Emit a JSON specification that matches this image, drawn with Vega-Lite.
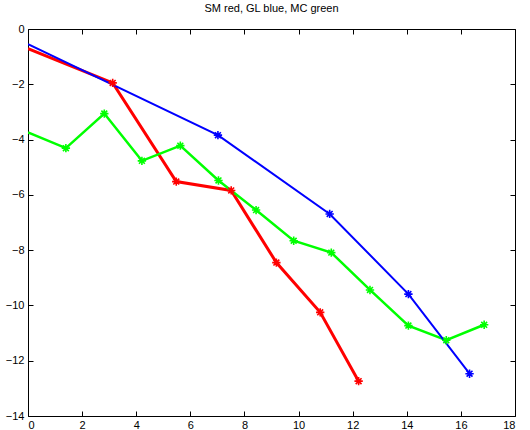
{
  "$schema": "https://vega.github.io/schema/vega-lite/v6.json",
  "width": 487,
  "height": 387,
  "autosize": {"type": "none"},
  "padding": {"left": 28, "top": 29, "right": 15, "bottom": 14},
  "background": "white",
  "title": {"text": "SM red, GL blue, MC green", "fontSize": 11, "fontWeight": "normal", "font": "Liberation Sans", "color": "black", "offset": 9},
  "config": {
    "view": {"stroke": "black", "strokeWidth": 1},
    "axis": {
      "domain": false, "grid": false, "tickColor": "black", "tickSize": -5, "tickWidth": 1,
      "labelFont": "Liberation Sans", "labelFontSize": 11, "labelColor": "black", "title": null
    }
  },
  "data": {"values": [
    {"series": "SM", "x": 0, "y": -0.71},
    {"series": "SM", "x": 3.13, "y": -1.95},
    {"series": "SM", "x": 5.48, "y": -5.52},
    {"series": "SM", "x": 7.51, "y": -5.84},
    {"series": "SM", "x": 9.18, "y": -8.45},
    {"series": "SM", "x": 10.8, "y": -10.25},
    {"series": "SM", "x": 12.22, "y": -12.74},
    {"series": "MC", "x": 0, "y": -3.74},
    {"series": "MC", "x": 1.4, "y": -4.31},
    {"series": "MC", "x": 2.82, "y": -3.06},
    {"series": "MC", "x": 4.21, "y": -4.77},
    {"series": "MC", "x": 5.63, "y": -4.22},
    {"series": "MC", "x": 7.04, "y": -5.48},
    {"series": "MC", "x": 8.43, "y": -6.55},
    {"series": "MC", "x": 9.82, "y": -7.66},
    {"series": "MC", "x": 11.21, "y": -8.09},
    {"series": "MC", "x": 12.64, "y": -9.44},
    {"series": "MC", "x": 14.06, "y": -10.73},
    {"series": "MC", "x": 15.46, "y": -11.26},
    {"series": "MC", "x": 16.86, "y": -10.7},
    {"series": "GL", "x": 0, "y": -0.55},
    {"series": "GL", "x": 7.02, "y": -3.84},
    {"series": "GL", "x": 11.15, "y": -6.69},
    {"series": "GL", "x": 14.06, "y": -9.59},
    {"series": "GL", "x": 16.32, "y": -12.47}
  ]},
  "layer": [
    {
      "mark": {"type": "line", "clip": true},
      "encoding": {
        "x": {"field": "x", "type": "quantitative", "scale": {"domain": [0, 18], "nice": false, "zero": false},
              "axis": {"orient": "bottom", "values": [0, 2, 4, 6, 8, 10, 12, 14, 16, 18], "labelPadding": 8}},
        "y": {"field": "y", "type": "quantitative", "scale": {"domain": [-14, 0], "nice": false, "zero": false},
              "axis": {"orient": "left", "values": [-14, -12, -10, -8, -6, -4, -2, 0], "labelPadding": 9}},
        "color": {"field": "series", "type": "nominal", "scale": {"domain": ["SM", "MC", "GL"], "range": ["#ff0000", "#00ff00", "#0000ff"]}, "legend": null},
        "strokeWidth": {"field": "series", "type": "nominal", "scale": {"domain": ["SM", "MC", "GL"], "range": [3, 2, 2]}, "legend": null},
        "order": {"field": "x", "type": "quantitative"}
      }
    },
    {
      "transform": [{"filter": "datum.x > 0"}],
      "mark": {"type": "point", "shape": "M-1,0L1,0M0,-1L0,1M-0.7,-0.7L0.7,0.7M-0.7,0.7L0.7,-0.7", "filled": false, "size": 70, "strokeWidth": 1.6, "opacity": 1},
      "encoding": {
        "x": {"field": "x", "type": "quantitative", "scale": {"domain": [0, 18], "nice": false, "zero": false},
              "axis": {"orient": "top", "values": [0, 2, 4, 6, 8, 10, 12, 14, 16, 18], "labels": false}},
        "y": {"field": "y", "type": "quantitative", "scale": {"domain": [-14, 0], "nice": false, "zero": false},
              "axis": {"orient": "right", "values": [-14, -12, -10, -8, -6, -4, -2, 0], "labels": false}},
        "color": {"field": "series", "type": "nominal", "scale": {"domain": ["SM", "MC", "GL"], "range": ["#ff0000", "#00ff00", "#0000ff"]}, "legend": null}
      }
    }
  ],
  "resolve": {"axis": {"x": "independent", "y": "independent"}}
}
